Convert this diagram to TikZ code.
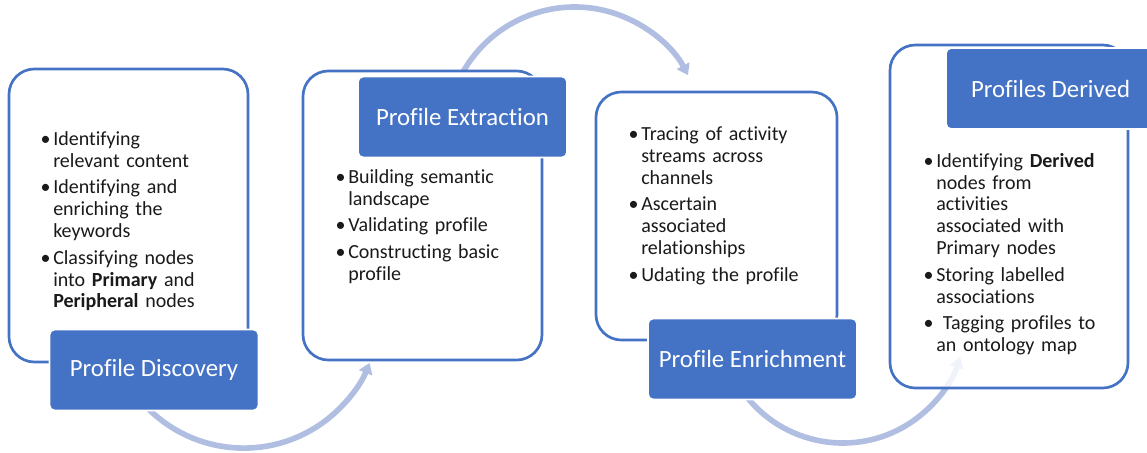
\documentclass[tikz,border=0pt]{standalone}
\usepackage{fontspec}
\setmainfont{Carlito}[Ligatures={NoCommon,NoContextual}]
\usetikzlibrary{arrows.meta}
\definecolor{accent}{HTML}{4472C4}
\definecolor{flowc}{RGB}{176,190,226}
\definecolor{txt}{HTML}{1A1A1A}
\newcommand{\bitem}[1]{\par\hangindent=10.5pt\hangafter=1\noindent\hbox to 10.5pt{\hskip1pt\textbullet\hss}#1\par}
\tikzset{
  panel/.style={draw=accent, line width=2pt, fill=white, rounded corners=19pt, inner sep=0pt},
  fadepanel/.style={panel, fill opacity=0.82},
  titlebox/.style={fill=accent, draw=white, line width=1.2pt, rounded corners=4pt, inner sep=0pt,
    minimum width=156.75pt, minimum height=60.75pt, text=white, font=\fontsize{18.6pt}{22pt}\selectfont},
  bullets/.style={anchor=north west, inner sep=0pt, text width=200pt, align=left, text=txt,
    font=\fontsize{15pt}{16.4pt}\selectfont},
  flow/.style={draw=flowc, line width=4.2pt, -{Triangle[width=10.5pt,length=8pt]}},
}
\begin{document}
\begin{tikzpicture}[x=0.75pt,y=-0.75pt]
\useasboundingbox (0,0) rectangle (1147,453);
\clip (0,0) rectangle (1147,453);
% flow arcs (drawn first, behind boxes)
\coordinate (a1) at (140.0,399.7);
\coordinate (a2) at (454.0,91.5);
\coordinate (a3) at (742.1,390.6);
\draw[flow] (a1) arc[start angle=220, end angle=338.2, radius=101.6pt];
\draw[flow] (a2) arc[start angle=160, end angle=28.0, radius=96.3pt];
\draw[flow] (a3) arc[start angle=215, end angle=342.5, radius=92.2pt];
% panels
\node[panel, minimum width=179.25pt, minimum height=219.75pt] (p1) at (128.5,215.5) {};
\node[panel, minimum width=179.25pt, minimum height=216.75pt] (p2) at (422.5,215.5) {};
\node[panel, minimum width=180.75pt, minimum height=186pt] (p3) at (716.5,216) {};
\node[fadepanel, minimum width=178.5pt, minimum height=257.25pt] (p4) at (1009,216.5) {};
% titles
\node[titlebox] (t1) at (154,370) {Profile Discovery};
\node[titlebox] (t2) at (462.5,117) {Profile Extraction};
\node[titlebox] (t3) at (752.5,359) {Profile Enrichment};
\node[titlebox] (t4) at (1050.5,88.5) {Profiles Derived};
% bullet texts
\node[bullets] (b1) at (39,118.7) {\setlength{\parskip}{3.5pt}%
\bitem{\strut Identifying\newline relevant content}
\bitem{Identifying and\newline enriching the\newline keywords}
\bitem{Classifying nodes\newline into \textbf{Primary} and\newline \textbf{Peripheral} nodes}};
\node[bullets] (b2) at (334,156.7) {\setlength{\parskip}{3.5pt}%
\bitem{\strut Building semantic\newline landscape}
\bitem{Validating profile}
\bitem{Constructing basic\newline profile}};
\node[bullets] (b3) at (627,113.7) {\setlength{\parskip}{3.5pt}%
\bitem{\strut Tracing of activity\newline streams across\newline channels}
\bitem{Ascertain\newline associated\newline relationships}
\bitem{Udating the profile}};
\node[bullets] (b4) at (922,140.4) {\setlength{\parskip}{3.5pt}%
\bitem{\strut Identifying \textbf{Derived}\newline nodes from\newline activities\newline associated with\newline Primary nodes}
\bitem{Storing labelled\newline associations}
\bitem{\ Tagging profiles to\newline an ontology map}};
\end{tikzpicture}
\end{document}
